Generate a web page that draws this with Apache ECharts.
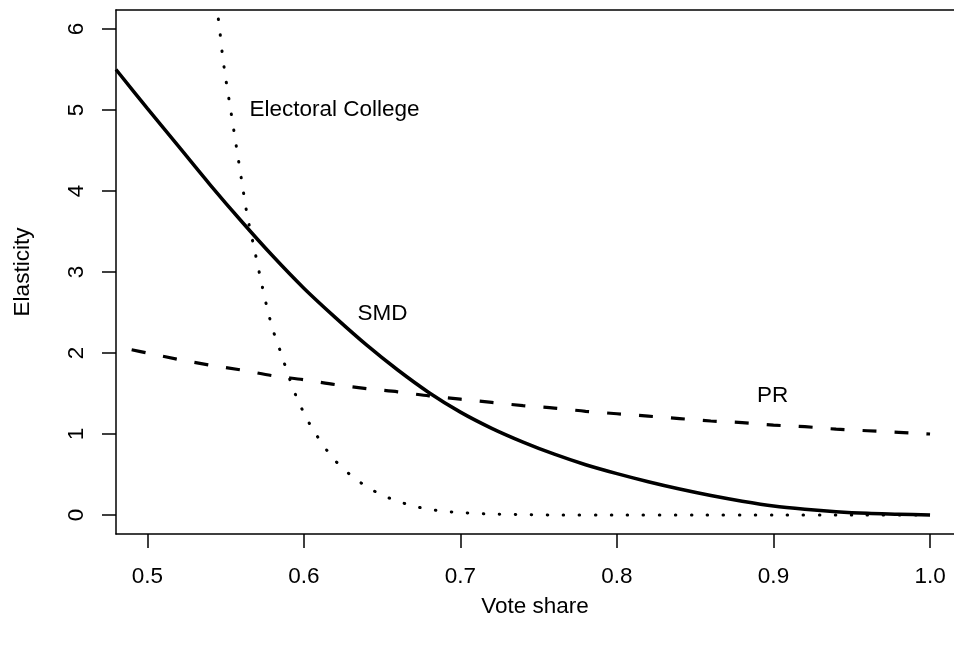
<!DOCTYPE html>
<html>
<head>
<meta charset="utf-8">
<script src="https://cdn.jsdelivr.net/npm/echarts@6/dist/echarts.min.js"></script>
<style>html,body{margin:0;padding:0;background:#fff;}#c{width:954px;height:645px;}</style>
</head>
<body>
<div id="c"></div>
<script>
// Vote share (x) and elasticity (y)
var smdX = [0.48,0.50,0.52,0.54,0.56,0.58,0.60,0.62,0.64,0.66,0.68,0.70,0.72,0.74,0.76,0.78,0.80,0.82,0.84,0.86,0.88,0.90,0.92,0.94,0.96,0.98,1.00];
var smdY = [5.50,5.02,4.55,4.08,3.63,3.20,2.80,2.44,2.10,1.79,1.51,1.27,1.07,0.90,0.75,0.62,0.51,0.41,0.32,0.24,0.17,0.11,0.07,0.04,0.02,0.01,0.00];

var prX = [0.49,0.50,0.52,0.54,0.56,0.58,0.60,0.62,0.64,0.66,0.68,0.70,0.72,0.74,0.76,0.78,0.80,0.82,0.84,0.86,0.88,0.90,0.92,0.94,0.96,0.98,1.00];
var prY = [2.04,2.00,1.92,1.85,1.79,1.72,1.67,1.61,1.56,1.52,1.47,1.43,1.39,1.35,1.32,1.28,1.25,1.22,1.19,1.16,1.14,1.11,1.09,1.06,1.04,1.02,1.00];

var ecX = [0.544,0.546,0.548,0.550,0.553,0.556,0.560,0.564,0.568,0.572,0.576,0.580,0.585,0.590,0.595,0.600,0.605,0.610,0.615,0.620,0.630,0.640,0.650,0.660,0.670,0.680,0.690,0.700,0.720,0.740,0.760,0.800,0.850,0.900,0.950,1.000];
var ecY = [6.32,6.03,5.68,5.40,5.03,4.66,4.16,3.68,3.32,2.95,2.60,2.30,2.02,1.73,1.47,1.26,1.08,0.93,0.79,0.67,0.49,0.35,0.245,0.17,0.11,0.07,0.045,0.03,0.01,0.005,0,0,0,0,0,0];

var xTicks = [0.5,0.6,0.7,0.8,0.9,1.0];
var yTicks = [0,1,2,3,4,5,6];

var curveLabels = [
  {name: 'Electoral College', x: 0.5652, y: 5.0, series: 'Electoral College'},
  {name: 'SMD', x: 0.6343, y: 2.49, series: 'SMD'},
  {name: 'PR', x: 0.8894, y: 1.47, series: 'PR'}
];

function pairs(xs, ys){ return xs.map(function(x,i){ return [x, ys[i]]; }); }
function labelFor(s){
  var l = curveLabels.filter(function(c){ return c.series === s; })[0];
  return {
    symbol: 'circle', symbolSize: 0, silent: true,
    label: {show: true, position: 'right', distance: 0, color: '#000',
      fontFamily: 'Liberation Sans', fontSize: 22.5, formatter: l.name},
    data: [{coord: [l.x, l.y]}]
  };
}

var FONT = 'Liberation Sans';
var XMIN = 0.48, XMAX = 1.0153, YMIN = -0.235, YMAX = 6.235;
var chart = echarts.init(document.getElementById('c'), null, {renderer: 'canvas'});
chart.setOption({
  animation: false,
  backgroundColor: '#fff',
  grid: {left: 116, top: 10, right: 0, bottom: 111, show: false, containLabel: false},
  xAxis: [{
    type: 'value', min: XMIN, max: XMAX, position: 'bottom',
    name: 'Vote share', nameLocation: 'middle', nameGap: 61,
    nameTextStyle: {fontFamily: FONT, fontSize: 22.5, color: '#000'},
    axisLine: {show: true, onZero: false, lineStyle: {color: '#000', width: 1.5}},
    axisTick: {show: true, length: 14, lineStyle: {color: '#000', width: 1.5}, customValues: xTicks},
    axisLabel: {fontFamily: FONT, fontSize: 22.5, color: '#000', margin: 31, customValues: xTicks,
      formatter: function(v){ return v.toFixed(1); }},
    splitLine: {show: false}
  }, {
    type: 'value', min: XMIN, max: XMAX, position: 'top',
    axisLine: {show: true, onZero: false, lineStyle: {color: '#000', width: 1.5}},
    axisTick: {show: false}, axisLabel: {show: false}, splitLine: {show: false}
  }],
  yAxis: {
    type: 'value', min: YMIN, max: YMAX,
    name: 'Elasticity', nameLocation: 'middle', nameGap: 82,
    nameTextStyle: {fontFamily: FONT, fontSize: 22.5, color: '#000'},
    axisLine: {show: true, onZero: false, lineStyle: {color: '#000', width: 1.5}},
    axisTick: {show: true, length: 14, lineStyle: {color: '#000', width: 1.5}, customValues: yTicks},
    axisLabel: {fontFamily: FONT, fontSize: 22.5, color: '#000', margin: 28, rotate: 90, customValues: yTicks},
    splitLine: {show: false}
  },
  series: [
    {
      name: 'Electoral College', type: 'line', data: pairs(ecX, ecY),
      showSymbol: false, symbol: 'none', smooth: 0.25, clip: true,
      lineStyle: {color: '#000', width: 3, type: [0.5, 15.5], cap: 'round'},
      markPoint: labelFor('Electoral College')
    },
    {
      name: 'SMD', type: 'line', data: pairs(smdX, smdY),
      showSymbol: false, symbol: 'none', smooth: 0.3, clip: true,
      lineStyle: {color: '#000', width: 3.5},
      markPoint: labelFor('SMD')
    },
    {
      name: 'PR', type: 'line', data: pairs(prX, prY),
      showSymbol: false, symbol: 'none', smooth: 0.3, clip: true,
      lineStyle: {color: '#000', width: 3.2, type: [14, 18]},
      markPoint: labelFor('PR')
    }
  ]
});
</script>
</body>
</html>
